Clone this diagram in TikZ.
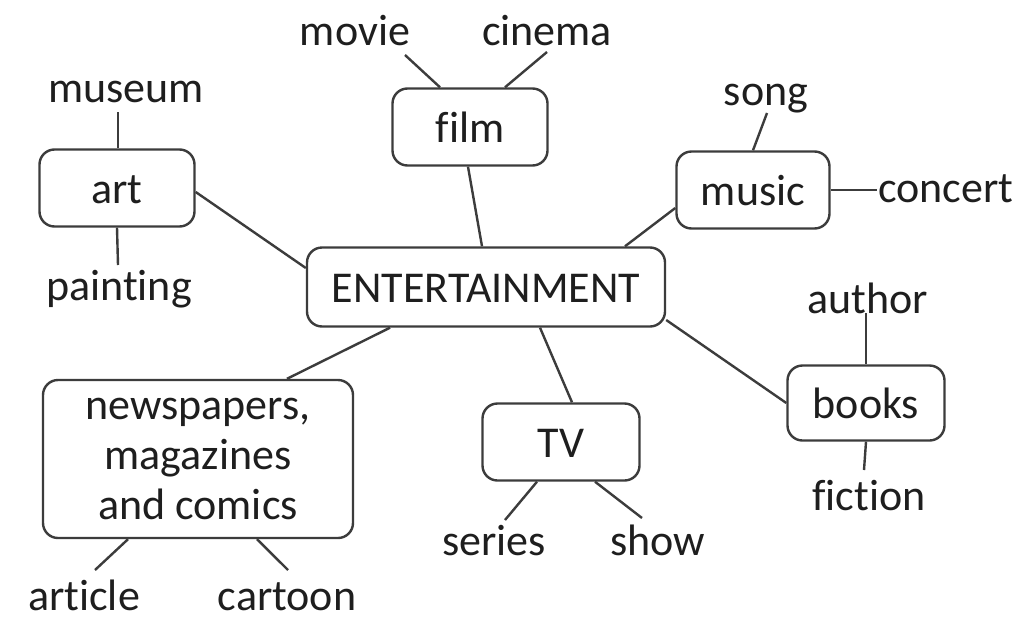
\documentclass[tikz,border=0pt]{standalone}
\usepackage{fontspec}
\setmainfont{Carlito}[RawFeature={-liga;-clig;-dlig}]
\definecolor{ink}{HTML}{1E1E1E}
\definecolor{linec}{HTML}{3C3C3C}
\tikzset{
  base font/.style={font=\fontsize{44}{50}\selectfont, text=ink},
  topic/.style={base font, draw=linec, line width=2.4pt, rounded corners=15pt,
    inner sep=0pt, text height=30pt, text depth=0pt},
  word/.style={base font, inner sep=1pt, anchor=base},
  link/.style={draw=linec, line width=2.4pt},
}
\begin{document}
\begin{tikzpicture}[x=1pt,y=-1pt]
\useasboundingbox[fill=white] (0,0) rectangle (1025,635);
% main boxes
\node[topic, minimum width=358, minimum height=79] (ent) at (486,287) {ENTERTAINMENT};
\node[topic, minimum width=155, minimum height=77] (film) at (470,127) {film};
\node[topic, minimum width=153, minimum height=77] (music) at (753,190) {music};
\node[topic, minimum width=155, minimum height=77] (art) at (117,188) {art};
\node[topic, minimum width=157, minimum height=77] (tv) at (561,442) {TV};
\node[topic, minimum width=157, minimum height=75] (books) at (866,403) {books};
\node[base font, draw=linec, line width=2.4pt, rounded corners=15pt, inner sep=0pt,
  minimum width=310, minimum height=158, align=center, text depth=-8pt] (news) at (198,459)
  {newspapers,\\magazines\\and comics};
% words
\node[word] (movie) at (355,45) {movie};
\node[word] (cinema) at (547,45) {cinema};
\node[word] (song) at (766,105) {song};
\node[word, anchor=base west] (concert) at (877,202) {concert};
\node[word] (museum) at (126,102) {museum};
\node[word] (painting) at (119,300) {painting};
\node[word] (author) at (868,313) {author};
\node[word] (fiction) at (869,510) {fiction};
\node[word] (series) at (494,555) {series};
\node[word] (show) at (658,555) {show};
\node[word] (article) at (84,610) {article};
\node[word] (cartoon) at (287,610) {cartoon};
% free ends near words
\coordinate (movieE) at (405,55);
\coordinate (cinemaE) at (547,52);
\coordinate (songE) at (767,113);
\coordinate (museumE) at (118,112);
\coordinate (paintingE) at (118,265);
\coordinate (authorE) at (866,313);
\coordinate (fictionE) at (864,470);
\coordinate (seriesE) at (505,520);
\coordinate (showE) at (642,518);
\coordinate (articleE) at (95,570);
\coordinate (cartoonE) at (288,570);
% connectors to centre
\draw[link] ([xshift=-2pt]film.south) -- ([xshift=-4pt]ent.north);
\draw[link] ([yshift=-18pt]music.west) -- ([xshift=139pt]ent.north);
\draw[link] ([yshift=-4pt]art.east) -- ([yshift=19pt]ent.west);
\draw[link] ([xshift=89pt]news.north) -- ([xshift=-96pt]ent.south);
\draw[link] ([xshift=11pt]tv.north) -- ([xshift=54pt]ent.south);
\draw[link] (books.west) -- ([yshift=-33pt]ent.east);
% connectors to words
\draw[link] (movieE) -- ([xshift=-30pt]film.north);
\draw[link] (cinemaE) -- ([xshift=35pt]film.north);
\draw[link] (songE) -- (music.north);
\draw[link] (music.east) -- (music.east -| concert.west);
\draw[link] (museumE) -- ([xshift=1pt]art.north);
\draw[link] (art.south) -- (paintingE);
\draw[link] (authorE) -- (books.north);
\draw[link] (books.south) -- (fictionE);
\draw[link] ([xshift=-24pt]tv.south) -- (seriesE);
\draw[link] ([xshift=34pt]tv.south) -- (showE);
\draw[link] ([xshift=-70pt]news.south) -- (articleE);
\draw[link] ([xshift=59pt]news.south) -- (cartoonE);
\end{tikzpicture}
\end{document}
